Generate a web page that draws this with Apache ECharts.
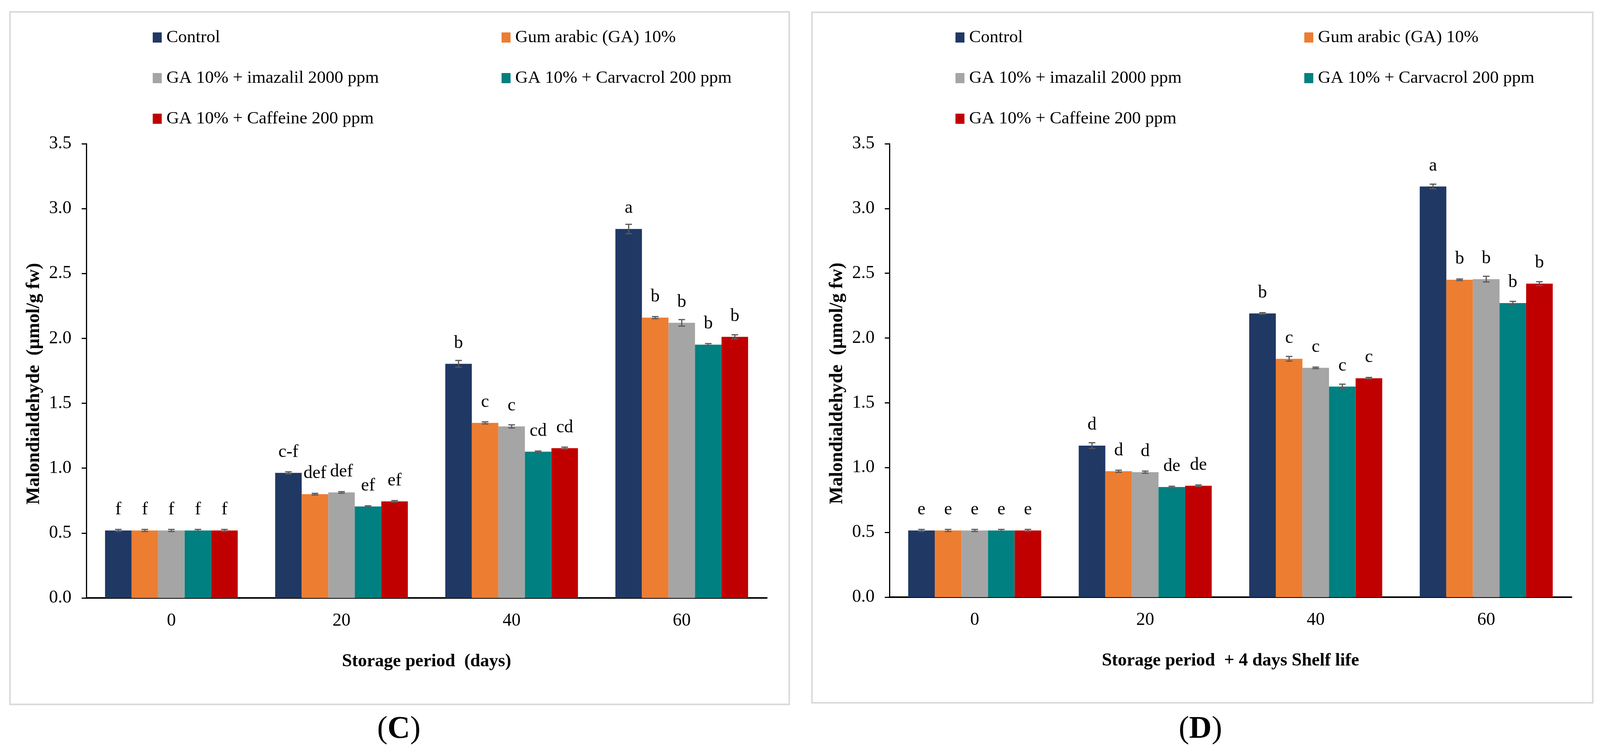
<!DOCTYPE html>
<html>
<head>
<meta charset="utf-8">
<title>Malondialdehyde</title>
<script src="https://cdn.jsdelivr.net/npm/echarts@6/dist/echarts.min.js"></script>
<style>
  html, body { margin: 0; padding: 0; background: #fff; overflow: hidden; }
  #main { width: 100vw; height: 100vh; }
</style>
</head>
<body>
<div id="main"></div>
<script>
// storage days on the x axis
var days = ['0', '20', '40', '60'];
var names = ['Control', 'Gum arabic (GA) 10%', 'GA 10% + imazalil 2000 ppm',
  'GA 10% + Carvacrol 200 ppm', 'GA 10% + Caffeine 200 ppm'];
var colors = ['#203864', '#ED7D31', '#A5A5A5', '#008080', '#C00000'];
var yTicks = [0, 0.5, 1.0, 1.5, 2.0, 2.5, 3.0, 3.5];

// panel C: storage period
var cControl = [0.52, 0.964, 1.804, 2.843];
var cGum = [0.52, 0.80, 1.349, 2.16];
var cImazalil = [0.52, 0.813, 1.322, 2.12];
var cCarvacrol = [0.52, 0.705, 1.127, 1.952];
var cCaffeine = [0.52, 0.744, 1.154, 2.012];
var cErrControl = [0.008, 0.008, 0.026, 0.036];
var cErrGum = [0.008, 0.006, 0.008, 0.008];
var cErrImazalil = [0.008, 0.006, 0.012, 0.025];
var cErrCarvacrol = [0.008, 0.005, 0.005, 0.008];
var cErrCaffeine = [0.008, 0.006, 0.008, 0.016];
var cLetControl = ['f', 'c-f', 'b', 'a'];
var cLetGum = ['f', 'def', 'c', 'b'];
var cLetImazalil = ['f', 'def', 'c', 'b'];
var cLetCarvacrol = ['f', 'ef', 'cd', 'b'];
var cLetCaffeine = ['f', 'ef', 'cd', 'b'];

// panel D: storage period + 4 days shelf life
var dControl = [0.515, 1.17, 2.19, 3.17];
var dGum = [0.515, 0.972, 1.84, 2.45];
var dImazalil = [0.515, 0.965, 1.77, 2.455];
var dCarvacrol = [0.515, 0.85, 1.626, 2.27];
var dCaffeine = [0.515, 0.86, 1.69, 2.42];
var dErrControl = [0.008, 0.022, 0.006, 0.018];
var dErrGum = [0.008, 0.008, 0.018, 0.006];
var dErrImazalil = [0.008, 0.008, 0.006, 0.022];
var dErrCarvacrol = [0.008, 0.006, 0.018, 0.013];
var dErrCaffeine = [0.008, 0.006, 0.006, 0.015];
var dLetControl = ['e', 'd', 'b', 'a'];
var dLetGum = ['e', 'd', 'c', 'b'];
var dLetImazalil = ['e', 'd', 'c', 'b'];
var dLetCarvacrol = ['e', 'de', 'c', 'b'];
var dLetCaffeine = ['e', 'de', 'c', 'b'];

var FONT = 'Liberation Serif, Times New Roman, serif';
var GAP = 0.22;

var dom = document.getElementById('main');
// layout was measured on a 4346px wide figure; stretch it to the real width
var sx = dom.clientWidth / 4346;
function X(v) { return Math.round(v * sx); }

var chart = echarts.init(dom);

function renderErr(params, api) {
  var cat = api.value(0), k = api.value(1), v = api.value(2), e = api.value(3);
  var band = api.size([1, 0])[0];
  var bw = band * (1 - GAP) / 5;
  var cx = api.coord([cat, 0])[0] + (k - 2) * bw;
  var yt = api.coord([cat, v + e])[1];
  var yb = api.coord([cat, v - e])[1];
  var w = 9 * sx;
  var st = { stroke: '#595959', lineWidth: 3 };
  return {
    type: 'group',
    children: [
      { type: 'line', shape: { x1: cx, y1: yt, x2: cx, y2: yb }, style: st },
      { type: 'line', shape: { x1: cx - w, y1: yt, x2: cx + w, y2: yt }, style: st },
      { type: 'line', shape: { x1: cx - w, y1: yb, x2: cx + w, y2: yb }, style: st }
    ]
  };
}

function panelSeries(idx, vals, errs, lets) {
  var out = [];
  var errData = [];
  for (var k = 0; k < vals.length; k++) {
    (function (k) {
      out.push({
        name: names[k],
        type: 'bar',
        xAxisIndex: idx,
        yAxisIndex: idx,
        data: vals[k],
        barGap: '0%',
        barCategoryGap: (GAP * 100) + '%',
        itemStyle: { color: colors[k] },
        label: {
          show: true,
          position: 'top',
          distance: 30,
          fontFamily: FONT,
          fontSize: 46,
          color: '#000',
          formatter: function (p) { return lets[k][p.dataIndex]; }
        },
        z: 2
      });
    })(k);
    for (var i = 0; i < days.length; i++) {
      errData.push([i, k, vals[k][i], errs[k][i]]);
    }
  }
  out.push({
    type: 'custom',
    xAxisIndex: idx,
    yAxisIndex: idx,
    renderItem: renderErr,
    encode: { x: 0, y: 2 },
    data: errData,
    silent: true,
    z: 3
  });
  return out;
}

function xAxisOf(idx, title) {
  return {
    type: 'category',
    gridIndex: idx,
    data: days,
    axisLine: { lineStyle: { color: '#000', width: 4 } },
    axisTick: { alignWithLabel: true, length: 11, lineStyle: { color: '#000', width: 3 } },
    axisLabel: { fontFamily: FONT, fontSize: 46, color: '#000', margin: 36 },
    name: title,
    nameLocation: 'middle',
    nameGap: 140,
    nameTextStyle: { fontFamily: FONT, fontSize: 46, fontWeight: 'bold', color: '#000' }
  };
}

function yAxisOf(idx) {
  return {
    type: 'value',
    gridIndex: idx,
    min: yTicks[0],
    max: yTicks[yTicks.length - 1],
    interval: 0.5,
    axisLine: { show: true, lineStyle: { color: '#000', width: 3 } },
    axisTick: { show: true, length: 12, lineStyle: { color: '#000', width: 3 } },
    axisLabel: {
      fontFamily: FONT, fontSize: 46, color: '#000', margin: X(40),
      formatter: function (v) { return v.toFixed(1); }
    },
    splitLine: { show: false },
    name: 'Malondialdehyde  (\u00b5mol/g fw)',
    nameLocation: 'middle',
    nameGap: X(116),
    nameTextStyle: {
      fontFamily: FONT, fontSize: 48, fontWeight: 'bold', color: '#000',
      padding: [0, 66, 0, 0]
    }
  };
}

function legendOf(left, items) {
  return {
    orient: 'vertical',
    left: X(left),
    top: 65,
    icon: 'rect',
    itemWidth: 23,
    itemHeight: 26,
    itemGap: 52,
    data: items,
    selectedMode: false,
    textStyle: {
      fontFamily: FONT, fontSize: 45, color: '#000',
      lineHeight: 52, padding: [0, 0, 0, 7]
    }
  };
}

function caption(cx, letter) {
  return {
    type: 'text', x: X(cx), y: 1868,
    style: {
      text: '{a|(}{b|' + letter + '}{a|)}', align: 'center', verticalAlign: 'middle',
      rich: {
        a: { fontFamily: FONT, fontSize: 80, fill: '#000' },
        b: { fontFamily: FONT, fontSize: 80, fontWeight: 'bold', fill: '#000' }
      }
    }
  };
}

function frame(x1, y1, x2, y2) {
  return {
    type: 'rect', left: X(x1), top: y1, z: -1,
    shape: { width: X(x2) - X(x1), height: y2 - y1 },
    style: { fill: 'none', stroke: '#d9d9d9', lineWidth: 4 }
  };
}

var col1 = [names[0], names[2], names[4]];
var col2 = [names[1], names[3]];

var series = []
  .concat(panelSeries(0,
    [cControl, cGum, cImazalil, cCarvacrol, cCaffeine],
    [cErrControl, cErrGum, cErrImazalil, cErrCarvacrol, cErrCaffeine],
    [cLetControl, cLetGum, cLetImazalil, cLetCarvacrol, cLetCaffeine]))
  .concat(panelSeries(1,
    [dControl, dGum, dImazalil, dCarvacrol, dCaffeine],
    [dErrControl, dErrGum, dErrImazalil, dErrCarvacrol, dErrCaffeine],
    [dLetControl, dLetGum, dLetImazalil, dLetCarvacrol, dLetCaffeine]));

var option = {
  backgroundColor: '#fff',
  animation: false,
  legend: [
    legendOf(410, col1), legendOf(1357, col2),
    legendOf(2590, col1), legendOf(3538, col2)
  ],
  grid: [
    { left: X(234), right: X(2263), top: 368, bottom: 397 },
    { left: X(2416), right: X(77), top: 368, bottom: 399 }
  ],
  xAxis: [
    xAxisOf(0, 'Storage period  (days)'),
    xAxisOf(1, 'Storage period  + 4 days Shelf life')
  ],
  yAxis: [yAxisOf(0), yAxisOf(1)],
  graphic: [
    frame(24, 28, 2141, 1801),
    frame(2203, 29, 4324, 1797),
    caption(1083, 'C'),
    caption(3261, 'D')
  ],
  series: series
};

chart.setOption(option);
window.addEventListener('resize', function () { chart.resize(); });
</script>
</body>
</html>
